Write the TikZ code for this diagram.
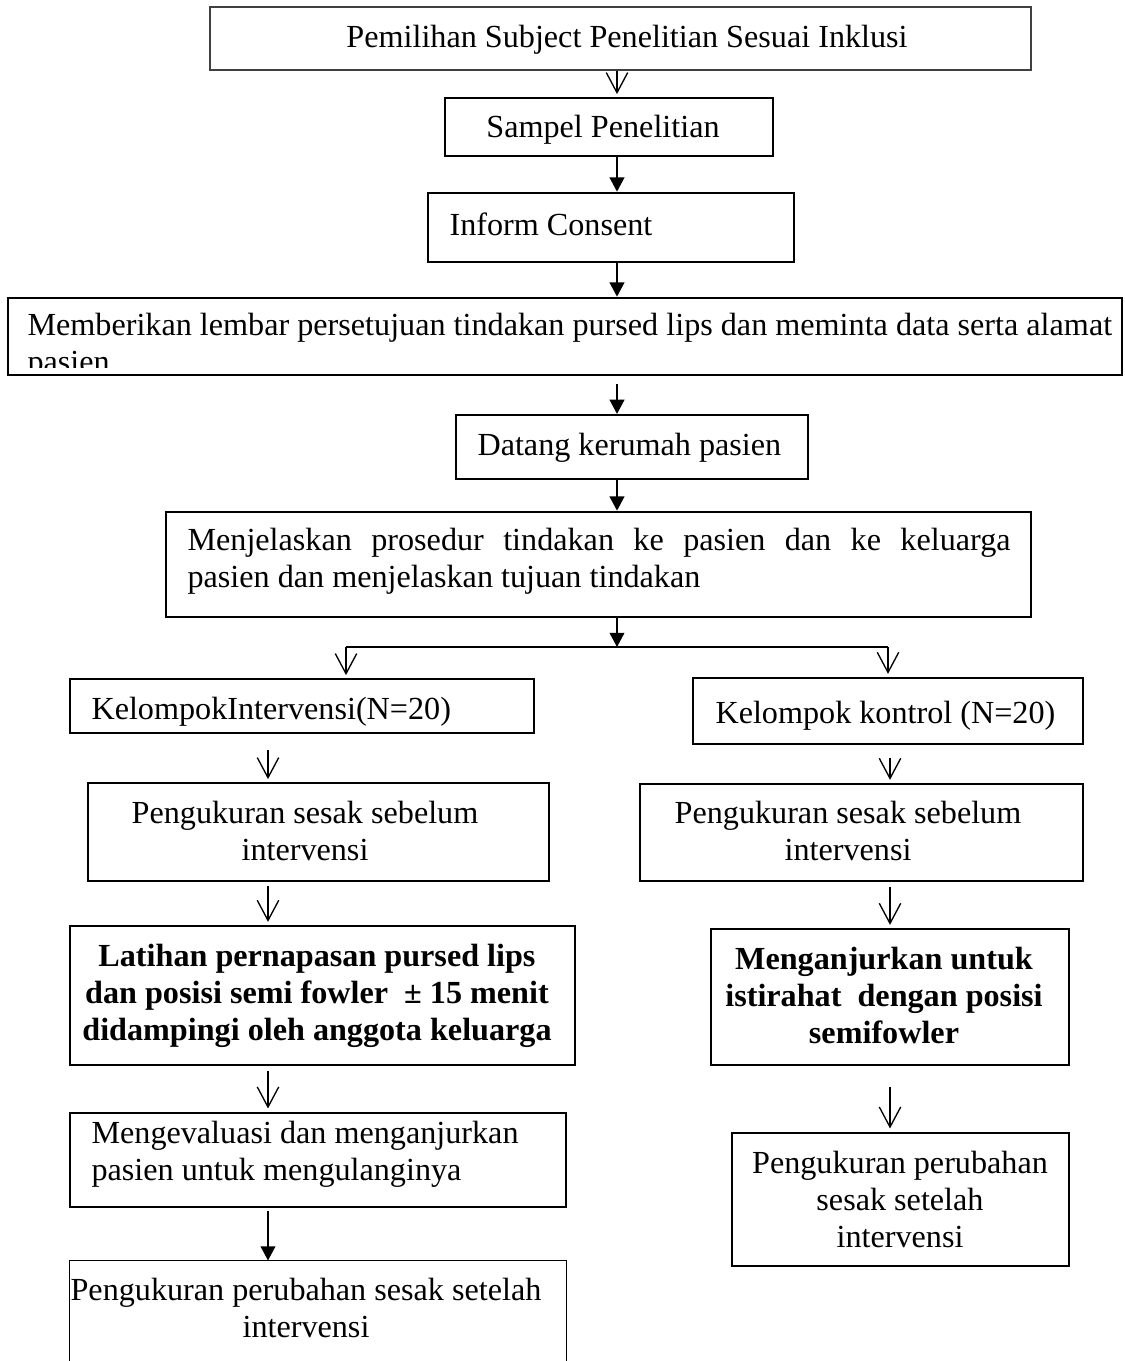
\documentclass[tikz,border=0pt]{standalone}
\usepackage{fontspec}
\setmainfont{Liberation Serif}
\usetikzlibrary{arrows.meta,positioning,fit,calc}
\tikzset{>=latex}
\tikzset{
	box/.style={draw=black, line width=0.5pt, inner sep=0pt},
	thickbox/.style={box, line width=1pt},
	txt/.style={inner sep=0pt, font=\fontsize{12}{13.8}\selectfont},
	boldtxt/.style={inner sep=0pt, font=\fontsize{12}{13.8}\selectfont\bfseries},
	flow/.style={-{Triangle[length=5.3pt,width=5.5pt]}, line width=0.6pt},
	openflow/.style={-{Straight Barb[length=7.5pt,width=8pt]}, line width=0.5pt, shorten >=1.2pt},
}

\begin{document}
\begin{tikzpicture}[x=0.373pt, y=-0.373pt]

	\useasboundingbox (0,0) rectangle (1125,1361);

	\coordinate (spine) at (617,0);
	\coordinate (col-l) at (268,0);
	\coordinate (col-r) at (890,0);

	\node (pemilihan) [txt, anchor=base] at (627,47) {Pemilihan Subject Penelitian Sesuai Inklusi};
	\node (pemilihan-box) [box, draw=black!75, fit={(210,7) (1031,70)}] {};

	\node (sampel) [txt, anchor=base] at (603,137) {Sampel Penelitian};
	\node (sampel-box) [box, fit={(445,98) (773,156)}] {};

	\node (consent) [txt, anchor=base west] at (449,235) {Inform Consent};
	\node (consent-box) [thickbox, fit={(428,193) (794,262)}] {};

	\begin{scope}
		\clip (8,298) rectangle (1122,367);
		\node (lembar) [txt, anchor=base west, align=left] at (27,372) {Memberikan lembar persetujuan tindakan pursed lips dan meminta data serta alamat\\pasien};
	\end{scope}
	\node (lembar-box) [thickbox, fit={(8,298) (1122,375)}] {};

	\node (datang) [txt, anchor=base west] at (477,455) {Datang kerumah pasien};
	\node (datang-box) [thickbox, line width=0.8pt, fit={(456,415) (808,479)}] {};

	\node (jelas) [txt, anchor=base west, text width=307pt, align=justify] at (187,550) {Menjelaskan prosedur tindakan ke pasien dan ke keluarga\linebreak pasien dan menjelaskan tujuan tindakan};
	\node (jelas-box) [thickbox, fit={(166,512) (1031,617)}] {};

	\coordinate (split) at (617,647);
	\coordinate (split-l) at (346,647);
	\coordinate (split-r) at (888,647);

	\node (kel-int) [txt, anchor=base west] at (91,719) {KelompokIntervensi(N=20)};
	\node (kel-int-box) [box, fit={(70,679) (534,733)}] {};

	\node (kel-kon) [txt, anchor=base west] at (715,723) {Kelompok kontrol (N=20)};
	\node (kel-kon-box) [box, line width=0.7pt, fit={(693,678) (1083,744)}] {};

	\node (ukur-pre-l) [txt, anchor=base, align=center] at (305,860) {Pengukuran sesak sebelum\\intervensi};
	\node (ukur-pre-l-box) [box, fit={(88,783) (549,881)}] {};

	\node (ukur-pre-r) [txt, anchor=base, align=center] at (848,860) {Pengukuran sesak sebelum\\intervensi};
	\node (ukur-pre-r-box) [box, line width=0.7pt, fit={(640,784) (1083,881)}] {};

	\node (latihan) [boldtxt, anchor=base, align=center] at (317,1040) {Latihan pernapasan pursed lips\\dan posisi semi fowler~ ± 15 menit\\didampingi oleh anggota keluarga};
	\node (latihan-box) [box, line width=0.7pt, fit={(70,926) (575,1065)}] {};

	\node (anjur) [boldtxt, anchor=base, align=center] at (884,1043) {Menganjurkan untuk\\istirahat~ dengan posisi\\semifowler};
	\node (anjur-box) [box, line width=0.7pt, fit={(711,929) (1069,1065)}] {};

	\node (evaluasi) [txt, anchor=base west, align=left] at (91,1180) {Mengevaluasi dan menganjurkan\\pasien untuk mengulanginya};
	\node (evaluasi-box) [thickbox, fit={(70,1113) (566,1207)}] {};

	\node (ukur-post-l) [txt, anchor=base, align=center] at (306,1337) {Pengukuran perubahan sesak setelah\\intervensi};
	\node (ukur-post-l-box) [inner sep=0pt, fit={(70,1261) (566,1361)}] {};
	\draw[line width=0.5pt] (ukur-post-l-box.south west) |- (ukur-post-l-box.north east) -- (ukur-post-l-box.south east);

	\node (ukur-post-r) [txt, anchor=base, align=center] at (900,1247) {Pengukuran perubahan\\sesak setelah\\intervensi};
	\node (ukur-post-r-box) [thickbox, fit={(732,1133) (1069,1266)}] {};

	\draw[openflow] (pemilihan-box.south -| spine) to (sampel-box.north -| spine);
	\draw[flow] (sampel-box.south -| spine) to (consent-box.north -| spine);
	\draw[flow] (consent-box.south -| spine) to (lembar-box.north -| spine);
	\draw[flow, shorten <=3pt] (lembar-box.south -| spine) to (datang-box.north -| spine);
	\draw[flow] (datang-box.south -| spine) to (jelas-box.north -| spine);
	\draw[flow] (jelas-box.south -| spine) to (split);
	\draw[line width=1pt] (split-l) -- (split-r);
	\draw[openflow] (split-l) to (kel-int-box.north -| split-l);
	\draw[openflow] (split-r) to (kel-kon-box.north -| split-r);

	\draw[openflow, shorten <=6pt] (kel-int-box.south -| col-l) to (ukur-pre-l-box.north -| col-l);
	\draw[openflow, shorten <=1.5pt] (ukur-pre-l-box.south -| col-l) to (latihan-box.north -| col-l);
	\draw[openflow, shorten <=2pt] (latihan-box.south -| col-l) to (evaluasi-box.north -| col-l);
	\draw[flow, shorten <=1pt] (evaluasi-box.south -| col-l) to (ukur-post-l-box.north -| col-l);

	\draw[openflow, shorten <=5pt] (kel-kon-box.south -| col-r) to (ukur-pre-r-box.north -| col-r);
	\draw[openflow, shorten <=2pt] (ukur-pre-r-box.south -| col-r) to (anjur-box.north -| col-r);
	\draw[openflow, shorten <=8pt] (anjur-box.south -| col-r) to (ukur-post-r-box.north -| col-r);

\end{tikzpicture}
\end{document}
